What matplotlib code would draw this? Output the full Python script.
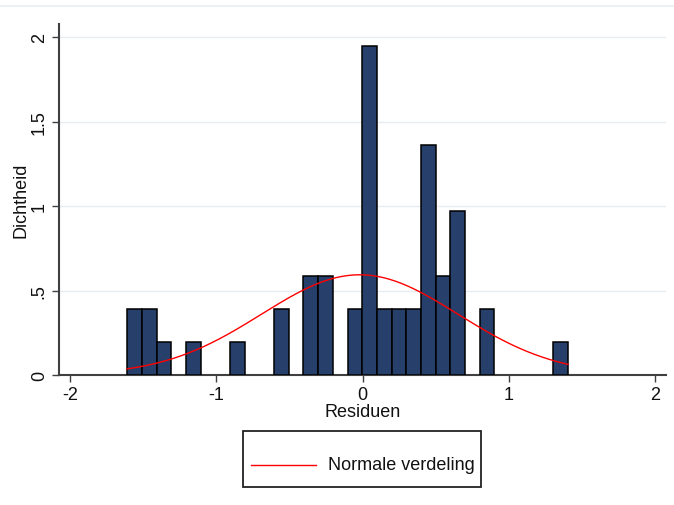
import numpy as np
import matplotlib
matplotlib.use("Agg")
import matplotlib.pyplot as plt
from matplotlib.lines import Line2D
from matplotlib.patches import Rectangle

plt.rcParams["font.family"] = ["Liberation Sans", "DejaVu Sans"]

# histogram: 30 bins starting at the smallest residual
bin_start = -1.611
bin_width = 0.1005
density = [0.39, 0.39, 0.195, 0, 0.195, 0, 0, 0.195, 0, 0,
           0.39, 0, 0.584, 0.584, 0, 0.39, 1.95, 0.39, 0.39, 0.39,
           1.36, 0.584, 0.974, 0, 0.39, 0, 0, 0, 0, 0.195]

# fitted normal curve
norm_mean = -0.02
norm_sd = 0.672
curve_min = -1.611
curve_max = 1.405

x_ticks = [-2, -1, 0, 1, 2]
y_ticks = [0, 0.5, 1, 1.5, 2]
y_ticklabels = ["0", ".5", "1", "1.5", "2"]

fs = 13

fig = plt.figure(figsize=(6.74, 5.06), dpi=100)
ax = fig.add_axes([0.0875, 0.257, 0.9005, 0.6936])

left_edges = bin_start + bin_width * np.arange(len(density))
keep = np.array(density) > 0
ax.bar(left_edges[keep], np.array(density)[keep], width=bin_width, align="edge",
       color="#273f6b", edgecolor="black", linewidth=1.1, zorder=3)

xs = np.linspace(curve_min, curve_max, 300)
pdf = np.exp(-0.5 * ((xs - norm_mean) / norm_sd) ** 2) / (norm_sd * np.sqrt(2 * np.pi))
ax.plot(xs, pdf, color="red", lw=1.0, zorder=4)

ax.set_xlim(-2.077, 2.074)
ax.set_ylim(0, 2.08)
ax.set_xticks(x_ticks)
ax.set_xticklabels([str(t) for t in x_ticks])
ax.set_yticks(y_ticks)
ax.set_yticklabels(y_ticklabels, rotation=90, va="center")
ax.tick_params(axis="both", direction="out", length=5, width=1.0, color="#404040",
               labelsize=fs, pad=3, labelcolor="#111111")

for s in ["top", "right"]:
    ax.spines[s].set_visible(False)
for s in ["left", "bottom"]:
    ax.spines[s].set_color("#404040")
    ax.spines[s].set_linewidth(1.5)

for v in y_ticks[1:]:
    ax.axhline(v, color="#e6edf2", lw=1.0, zorder=1)

ax.set_xlabel("Residuen", fontsize=fs, labelpad=0, color="#111111")
ax.set_ylabel("Dichtheid", fontsize=fs, labelpad=1, color="#111111")

# thin line at top of screenshot
fig.add_artist(Line2D([0, 1], [1 - 7 / 506, 1 - 7 / 506], color="#e8edf0", lw=1.2))

# legend box below plot
box_x0, box_y0 = 243 / 674, 1 - 488 / 506
box_w, box_h = (481 - 243) / 674, (488 - 432) / 506
fig.add_artist(Rectangle((box_x0, box_y0), box_w, box_h, transform=fig.transFigure,
                         fill=False, edgecolor="#222222", lw=1.3))
ly = 1 - 466 / 506
fig.add_artist(Line2D([251 / 674, 316 / 674], [ly, ly], color="red", lw=1.0))
fig.text(328 / 674, ly, "Normale verdeling", fontsize=fs, va="center", ha="left",
         color="#111111")

fig.savefig("out.png", dpi=100)
